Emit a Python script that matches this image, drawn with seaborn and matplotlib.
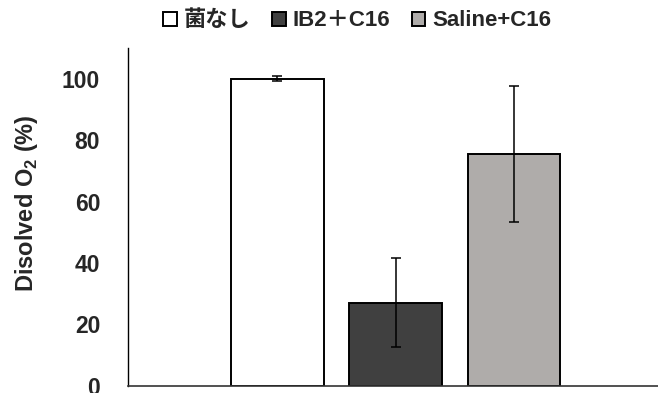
import matplotlib
matplotlib.use("Agg")
import matplotlib.pyplot as plt
import seaborn as sns
import pandas as pd

# Dissolved oxygen per treatment (mean and error)
groups = ["菌なし", "IB2＋C16", "Saline+C16"]
values = [100.0, 27.1, 75.5]
errors = [0.9, 14.4, 22.2]
colors = ["#FFFFFF", "#404040", "#AFACAA"]
yticks = [0, 20, 40, 60, 80, 100]

sns.set_theme(style="white")
plt.rcParams["font.family"] = ["Liberation Sans", "Noto Sans CJK JP", "DejaVu Sans"]
plt.rcParams["font.weight"] = "bold"
plt.rcParams["mathtext.fontset"] = "custom"
plt.rcParams["mathtext.bf"] = "Liberation Sans:bold"
plt.rcParams["mathtext.rm"] = "Liberation Sans:bold"

df = pd.DataFrame({"group": groups, "value": values})

fig = plt.figure(figsize=(6.58, 3.93), dpi=100)
ax = fig.add_axes([0.1945, 0.018, 0.81, 0.86])

sns.barplot(data=df, x="group", y="value", hue="group", order=groups,
            hue_order=groups, palette=colors, saturation=1, width=0.783,
            dodge=False, edgecolor="black", linewidth=1.4, legend=True, ax=ax)

ax.errorbar(range(len(groups)), values, yerr=errors, fmt="none",
            ecolor="black", elinewidth=1.1, capsize=3.5, capthick=1.1)

ax.set_xlim(-1.26, 3.24)
ax.set_ylim(0, 110)
ax.set_yticks(yticks)
ax.set_yticklabels([str(t) for t in yticks], fontsize=16.5, fontweight="bold")
ax.tick_params(axis="y", length=0, pad=20)
ax.set_xticks([])
ax.set_xlabel("")
ax.set_ylabel("Disolved O$_\\mathbf{2}$ (%)", fontsize=17, fontweight="bold")
ax.yaxis.set_label_coords(-0.165, 0.541)

for side in ["top", "right"]:
    ax.spines[side].set_visible(False)
ax.spines["left"].set_color("black")
ax.spines["left"].set_linewidth(1.0)
ax.spines["bottom"].set_color("#333333")
ax.spines["bottom"].set_linewidth(1.2)

sns.move_legend(ax, "center", bbox_to_anchor=(0.43, 1.08), ncol=3,
                frameon=False, title=None, fontsize=16, handlelength=0.6,
                handleheight=0.6, handletextpad=0.3, columnspacing=1.0,
                borderaxespad=0.0)
for t in ax.get_legend().get_texts():
    t.set_fontweight("bold")

fig.savefig("out.png", dpi=100)
